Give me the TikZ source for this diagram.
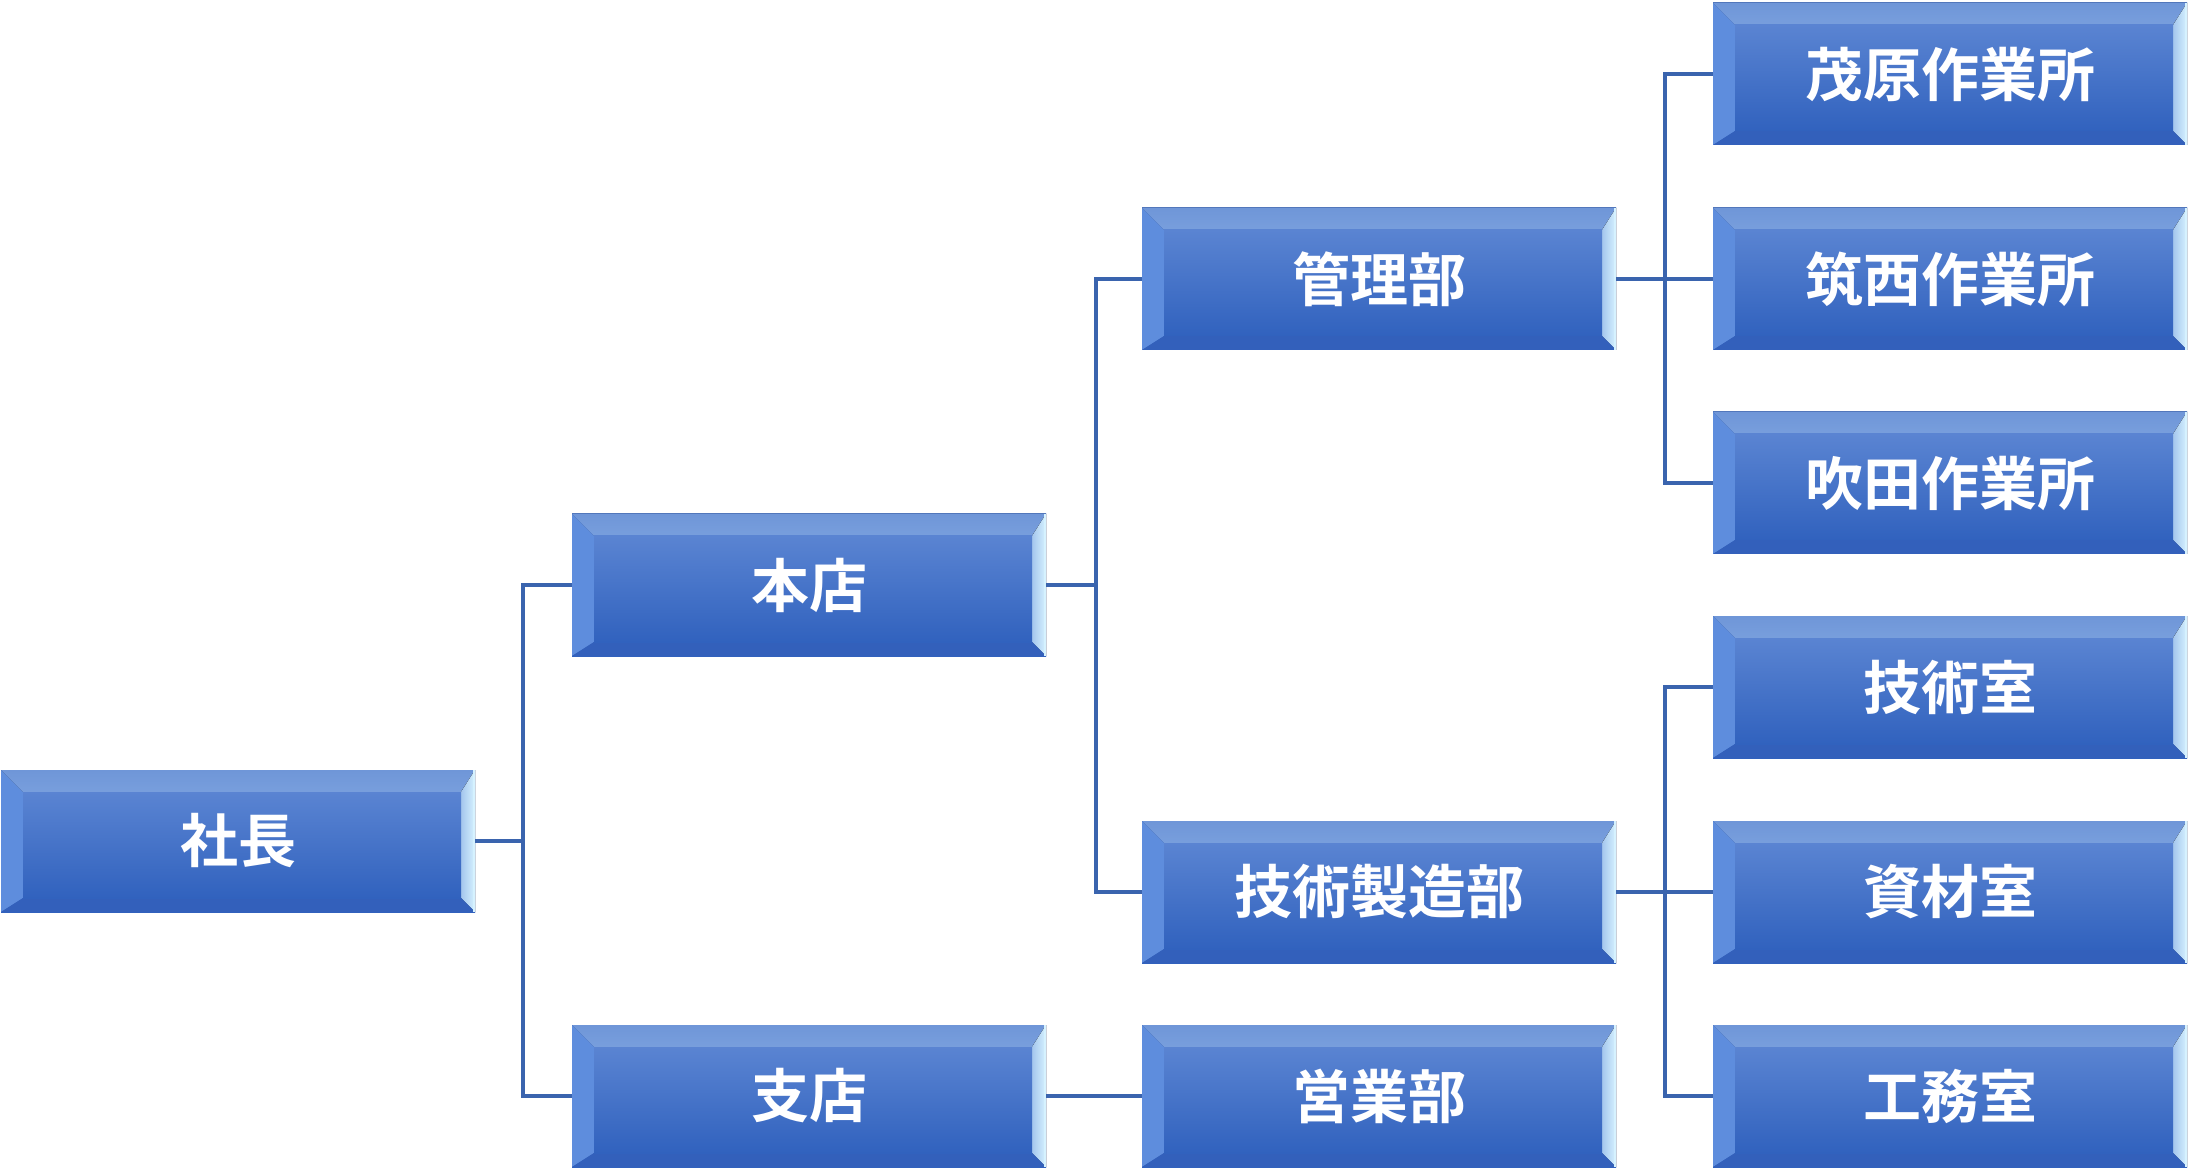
\documentclass[tikz,border=0pt]{standalone}
\usepackage{fontspec}
\newfontfamily\cjk{Noto Sans CJK JP}[BoldFont={Noto Sans CJK JP Bold}]
\definecolor{faceT}{HTML}{5A84D2}
\definecolor{faceB}{HTML}{3162BE}
\definecolor{bevT1}{HTML}{6F96D8}
\definecolor{bevT2}{HTML}{A9CDF6}
\definecolor{bevL}{HTML}{5E8DDD}
\definecolor{bevR}{HTML}{D6F2FF}
\definecolor{bevB}{HTML}{3360BB}
\definecolor{lineC}{HTML}{3A64AE}
\tikzset{
  orgbox/.style={minimum width=237pt, minimum height=71pt, inner sep=0pt,
    top color=faceT, bottom color=faceB, text=white,
    font=\cjk\bfseries\fontsize{29}{34}\selectfont,
    path picture={
      \fill[top color=bevT1, bottom color=bevT2]
        (path picture bounding box.north west) -- (path picture bounding box.north east)
        -- ([xshift=-7pt,yshift=-11pt]path picture bounding box.north east)
        -- ([xshift=11pt,yshift=-11pt]path picture bounding box.north west) -- cycle;
      \fill[bevL]
        (path picture bounding box.north west) -- ([xshift=11pt,yshift=-11pt]path picture bounding box.north west)
        -- ([xshift=11pt,yshift=7pt]path picture bounding box.south west)
        -- (path picture bounding box.south west) -- cycle;
      \fill[left color=bevR!60!faceT, right color=bevR]
        (path picture bounding box.north east) -- ([xshift=-7pt,yshift=-11pt]path picture bounding box.north east)
        -- ([xshift=-7pt,yshift=7pt]path picture bounding box.south east)
        -- (path picture bounding box.south east) -- cycle;
      \fill[bevB]
        (path picture bounding box.south west) -- ([xshift=11pt,yshift=7pt]path picture bounding box.south west)
        -- ([xshift=-7pt,yshift=7pt]path picture bounding box.south east)
        -- (path picture bounding box.south east) -- cycle;
      \fill[top color=faceT, bottom color=faceB]
        ([xshift=11pt,yshift=-11pt]path picture bounding box.north west)
        rectangle ([xshift=-7pt,yshift=7pt]path picture bounding box.south east);
      \draw[bevR, line width=1.2pt]
        ([xshift=-0.6pt]path picture bounding box.north east) -- ([xshift=-0.6pt]path picture bounding box.south east);
    }},
  conn/.style={draw=lineC, line width=1.8pt}
}
\begin{document}
\begin{tikzpicture}[x=0.5pt,y=-0.5pt]
\useasboundingbox (0,0) rectangle (2189,1170);
% column centres x: 238, 809, 1379, 1950
\node[orgbox] (shacho) at (238,841) {社長};
\node[orgbox] (honten) at (809,585) {本店};
\node[orgbox] (shiten) at (809,1096) {支店};
\node[orgbox] (kanri) at (1379,279) {管理部};
\node[orgbox] (gijutsu) at (1379,892) {技術製造部};
\node[orgbox] (eigyo) at (1379,1096) {営業部};
\node[orgbox] (shigehara) at (1950,74) {茂原作業所};
\node[orgbox] (chikusai) at (1950,279) {筑西作業所};
\node[orgbox] (fukita) at (1950,483) {吹田作業所};
\node[orgbox] (gijutsushitsu) at (1950,687) {技術室};
\node[orgbox] (shizai) at (1950,892) {資材室};
\node[orgbox] (koumu) at (1950,1096) {工務室};
% trunks
\coordinate (t1) at (523,841);
\coordinate (t2) at (1096,585);
\coordinate (t3) at (1665,279);
\coordinate (t4) at (1665,892);
\draw[conn] (shacho.east) -- (t1);
\draw[conn] (t1) |- (honten.west);
\draw[conn] (t1) |- (shiten.west);
\draw[conn] (honten.east) -- (t2);
\draw[conn] (t2) |- (kanri.west);
\draw[conn] (t2) |- (gijutsu.west);
\draw[conn] (kanri.east) -- (t3);
\draw[conn] (t3) |- (shigehara.west);
\draw[conn] (t3) -- (chikusai.west);
\draw[conn] (t3) |- (fukita.west);
\draw[conn] (gijutsu.east) -- (t4);
\draw[conn] (t4) |- (gijutsushitsu.west);
\draw[conn] (t4) -- (shizai.west);
\draw[conn] (t4) |- (koumu.west);
\draw[conn] (shiten.east) -- (eigyo.west);
\end{tikzpicture}
\end{document}
